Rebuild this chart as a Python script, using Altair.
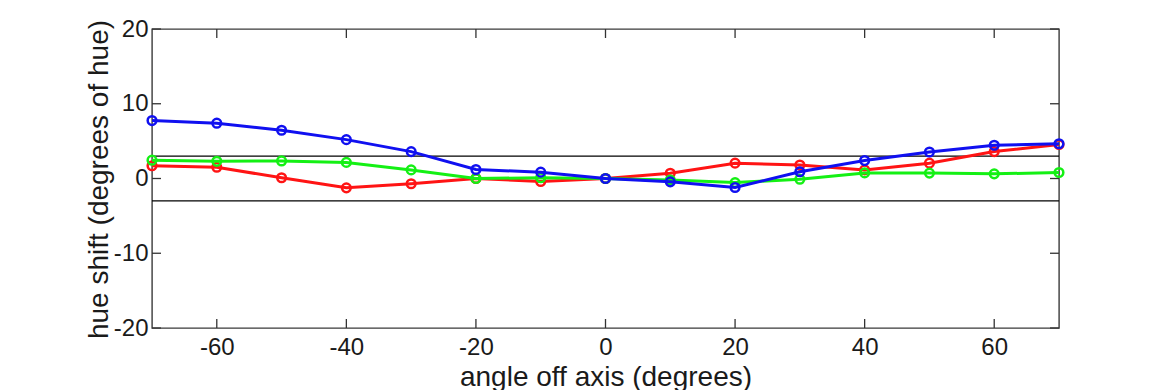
import altair as alt
import pandas as pd

angles = [-70, -60, -50, -40, -30, -20, -10, 0, 10, 20, 30, 40, 50, 60, 70]
red = [1.7, 1.5, 0.1, -1.25, -0.7, 0.0, -0.4, 0.0, 0.7, 2.05, 1.8, 1.15, 2.05, 3.6, 4.55]
green = [2.45, 2.3, 2.35, 2.15, 1.15, 0.0, 0.1, 0.0, -0.2, -0.55, -0.1, 0.75, 0.72, 0.62, 0.8]
blue = [7.75, 7.4, 6.45, 5.2, 3.6, 1.2, 0.85, 0.0, -0.45, -1.2, 0.9, 2.4, 3.55, 4.45, 4.65]
thresholds = [-3, 3]
x_ticks = [-60, -40, -20, 0, 20, 40, 60]
y_ticks = [-20, -10, 0, 10, 20]

W, H = 907, 299
FONT = "Liberation Sans"
TXT = "#1a1a1a"

xs = alt.Scale(domain=[-70, 70], nice=False, zero=False)
ys = alt.Scale(domain=[-20, 20], nice=False, zero=False)

x_axis = alt.Axis(values=x_ticks, title="angle off axis (degrees)", ticks=False, domain=False,
                  grid=False, labelPadding=7, labelFontSize=24, labelFont=FONT, labelColor=TXT,
                  labelExpr="toString(datum.value)", labelFlush=False, labelOverlap=False,
                  titleFontSize=28, titleFont=FONT, titleFontWeight="normal", titleColor=TXT,
                  titleY=57, titleBaseline="alphabetic")
y_axis = alt.Axis(values=y_ticks, title="hue shift (degrees of hue)", ticks=False, domain=False,
                  grid=False, labelPadding=4, labelFontSize=24, labelFont=FONT, labelColor=TXT,
                  labelExpr="toString(datum.value)", labelBaseline="middle", labelFlush=False,
                  labelOverlap=False,
                  titleFontSize=28, titleFont=FONT, titleFontWeight="normal", titleColor=TXT,
                  titleX=-45, titleY=150, titleBaseline="alphabetic")

def series(vals, color):
    df = pd.DataFrame({"angle": angles, "shift": vals})
    return alt.Chart(df).mark_line(
        color=color, strokeWidth=3,
        point=alt.OverlayMarkDef(filled=False, color=color, size=75, strokeWidth=2.5)
    ).encode(
        x=alt.X("angle:Q", scale=xs, axis=x_axis),
        y=alt.Y("shift:Q", scale=ys, axis=y_axis),
    )

thr = alt.Chart(pd.DataFrame({"t": thresholds})).mark_rule(color="black", strokeWidth=1.3).encode(
    y=alt.Y("t:Q", scale=ys, axis=y_axis), x=alt.value(0), x2=alt.value(W))

ydf = pd.DataFrame({"v": y_ticks})
xdf = pd.DataFrame({"v": x_ticks})
tick_style = dict(color="#333", strokeWidth=1.3)
yt_left = alt.Chart(ydf).mark_rule(**tick_style).encode(
    y=alt.Y("v:Q", scale=ys, axis=y_axis), x=alt.value(0), x2=alt.value(9))
yt_right = alt.Chart(ydf).mark_rule(**tick_style).encode(
    y=alt.Y("v:Q", scale=ys, axis=y_axis), x=alt.value(W - 9), x2=alt.value(W))
xt_bot = alt.Chart(xdf).mark_rule(**tick_style).encode(
    x=alt.X("v:Q", scale=xs, axis=x_axis), y=alt.value(H - 9), y2=alt.value(H))
xt_top = alt.Chart(xdf).mark_rule(**tick_style).encode(
    x=alt.X("v:Q", scale=xs, axis=x_axis), y=alt.value(0), y2=alt.value(9))

chart = alt.layer(
    thr, yt_left, yt_right, xt_bot, xt_top,
    series(red, "#ff1414"), series(green, "#14f014"), series(blue, "#1010f0"),
).properties(
    width=W, height=H,
    background="white",
    autosize=alt.AutoSizeParams(type="none"),
    padding={"left": 144, "top": 21, "right": 100, "bottom": 66},
).configure_view(stroke="#3a3a3a", strokeWidth=1.4)

chart.save("out.html", embed_options={"renderer": "svg", "actions": False})
